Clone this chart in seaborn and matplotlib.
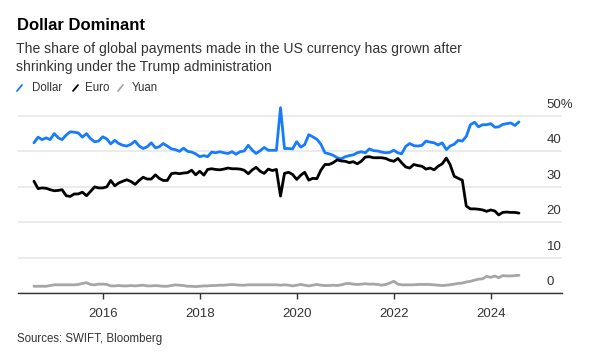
import pandas as pd
import seaborn as sns
import matplotlib.pyplot as plt
import matplotlib.transforms as mtransforms
from matplotlib.lines import Line2D

# monthly SWIFT shares (%), Aug 2014 - Aug 2024
months = pd.date_range("2014-08-01", periods=121, freq="MS")

dollar = [
    42.3, 43.9, 43.2, 43.7, 43.2, 44.9, 43.7, 43.2, 44.5, 45.4, 45.3, 45.1,
    43.9, 44.9, 43.5, 42.6, 42.8, 44.0, 43.4, 42.0, 43.0, 42.1, 41.6, 41.4,
    41.9, 42.8, 41.4, 40.7, 41.2, 42.3, 40.9, 41.2, 42.1, 41.4, 40.6, 40.4,
    39.9, 40.8, 39.9, 39.7, 39.2, 38.4, 38.7, 38.4, 39.7, 39.5, 39.8, 39.5,
    39.3, 39.8, 39.1, 39.8, 40.0, 41.6, 40.2, 39.3, 40.1, 41.0, 40.2, 40.2,
    40.2, 52.2, 40.7, 40.7, 40.6, 42.6, 41.1, 41.8, 44.6, 44.0, 43.3, 41.9,
    39.5, 39.2, 38.8, 38.1, 37.8, 38.4, 38.7, 38.9, 39.5, 39.8, 39.5, 40.6,
    40.1, 40.0, 39.7, 39.5, 39.6, 40.2, 39.5, 39.2, 41.3, 42.1, 41.5, 41.4,
    41.6, 42.8, 42.5, 42.3, 41.7, 42.3, 40.4, 41.4, 41.9, 43.0, 42.8, 44.1,
    47.4, 48.1, 46.8, 47.4, 47.4, 47.7, 46.7, 46.8, 47.5, 47.7, 47.9, 47.2,
    48.2,
]

euro = [
    31.5, 29.4, 29.6, 29.5, 29.1, 28.8, 28.9, 29.1, 27.4, 27.2, 27.9, 27.9,
    28.4, 27.4, 28.6, 29.9, 29.6, 29.6, 29.9, 31.7, 30.2, 31.0, 31.5, 31.9,
    31.4, 30.6, 31.7, 32.6, 32.1, 32.1, 33.3, 32.3, 31.7, 31.7, 33.6, 33.8,
    33.6, 33.8, 33.9, 34.6, 33.3, 34.3, 33.2, 34.8, 35.0, 34.8, 34.7, 34.9,
    35.2, 35.0, 35.0, 34.9, 34.6, 33.6, 34.7, 35.4, 34.3, 33.7, 34.9, 34.5,
    34.8, 27.3, 33.7, 34.0, 33.4, 32.0, 33.2, 34.0, 31.8, 32.3, 32.2, 34.6,
    36.2, 36.2, 36.7, 37.5, 37.2, 37.1, 36.7, 37.0, 36.4, 37.1, 38.3, 38.4,
    38.1, 38.1, 38.1, 37.9, 37.4, 37.1, 37.9, 36.7, 35.5, 35.2, 36.2, 35.9,
    35.7, 34.9, 35.2, 34.7, 35.7, 36.4, 38.0, 36.2, 32.9, 32.3, 31.8, 24.5,
    23.7, 23.7, 23.6, 23.4, 23.0, 23.4, 23.1, 22.0, 22.7, 22.8, 22.7, 22.7,
    22.5,
]

yuan = [
    1.9, 1.9, 1.9, 1.9, 2.1, 2.3, 2.3, 2.3, 2.3, 2.3, 2.3, 2.4,
    2.7, 2.9, 2.4, 2.3, 2.5, 2.5, 2.4, 2.0, 2.0, 2.1, 2.0, 2.0,
    2.1, 2.0, 2.1, 2.2, 2.0, 2.0, 2.1, 2.0, 1.9, 1.9, 2.1, 2.3,
    2.2, 2.1, 1.9, 1.9, 1.8, 1.9, 2.0, 2.0, 2.1, 2.1, 2.2, 2.2,
    2.3, 2.4, 2.3, 2.2, 2.2, 2.3, 2.3, 2.3, 2.3, 2.3, 2.3, 2.3,
    2.3, 2.2, 2.3, 2.2, 2.0, 2.2, 2.4, 2.2, 2.0, 2.2, 2.4, 2.2,
    2.1, 2.1, 2.2, 2.1, 2.3, 2.6, 2.7, 2.5, 2.4, 2.5, 2.6, 2.5,
    2.5, 2.4, 2.2, 2.4, 2.8, 3.3, 2.5, 2.3, 2.3, 2.3, 2.3, 2.4,
    2.4, 2.4, 2.4, 2.3, 2.2, 2.1, 2.2, 2.3, 2.5, 2.7, 2.8, 3.1,
    3.3, 3.6, 3.9, 4.0, 4.7, 4.4, 4.8, 4.3, 4.9, 4.8, 4.8, 4.9,
    5.0,
]

series_names = ["Dollar", "Euro", "Yuan"]
series_colors = ["#157bff", "#000000", "#a6a6a6"]
y_ticks = [0, 10, 20, 30, 40, 50]
y_tick_labels = ["0", "10", "20", "30", "40", "50%"]
x_tick_years = [2016, 2018, 2020, 2022, 2024]

df = pd.DataFrame({"date": months, "Dollar": dollar, "Euro": euro, "Yuan": yuan})
long_df = df.melt(id_vars="date", var_name="currency", value_name="share")

sns.set_theme(style="white")
plt.rcParams["font.family"] = ["Liberation Sans", "DejaVu Sans"]

W, H = 591, 359
fig = plt.figure(figsize=(W / 100, H / 100), dpi=100)
ax = fig.add_axes([18 / W, 1 - 293 / H, (562 - 18) / W, (293 - 97.75) / H])

sns.lineplot(data=long_df, x="date", y="share", hue="currency",
             hue_order=series_names, palette=series_colors,
             linewidth=2, legend=False, ax=ax)

ax.set_xlim(pd.Timestamp("2014-04-03"), pd.Timestamp("2025-06-21"))
ax.set_ylim(0, 55)
ax.set_xlabel("")
ax.set_ylabel("")

for side in ["top", "left", "right"]:
    ax.spines[side].set_visible(False)
ax.spines["bottom"].set_color("#333333")
ax.spines["bottom"].set_linewidth(1)

# gridlines, labels sit above them at the right end
ax.set_yticks(y_ticks)
ax.yaxis.grid(True, color="#e9e9e9", linewidth=1.3)
ax.set_axisbelow(True)
ax.tick_params(axis="y", length=0, labelleft=False)
trans = mtransforms.blended_transform_factory(ax.transAxes, ax.transData)
for v, lab in zip(y_ticks, y_tick_labels):
    ax.text(0.972, v + 3.0, lab, transform=trans, ha="left", va="center",
            fontsize=9.5, color="#333333")

ax.set_xticks([pd.Timestamp(f"{y}-01-01") for y in x_tick_years])
ax.set_xticklabels([str(y) for y in x_tick_years])
ax.tick_params(axis="x", length=4, width=1, color="#333333", pad=7,
               labelsize=9.5, labelcolor="#333333", bottom=True)

# header
fig.text(17 / W, 1 - 30 / H, "Dollar Dominant", fontsize=12, fontweight="bold",
         color="#000000", va="baseline", ha="left")
fig.text(16 / W, 1 - 53 / H, "The share of global payments made in the US currency has grown after",
         fontsize=10.1, color="#333333", va="baseline", ha="left")
fig.text(16 / W, 1 - 71 / H, "shrinking under the Trump administration",
         fontsize=10.1, color="#333333", va="baseline", ha="left")

# legend with slash markers
legend_x = [(17, 32), (73, 85), (118, 132)]
for (sx, tx), name, col in zip(legend_x, series_names, series_colors):
    fig.add_artist(Line2D([sx / W, (sx + 5) / W], [1 - 91 / H, 1 - 85 / H],
                          color=col, linewidth=1.3, transform=fig.transFigure))
    fig.text(tx / W, 1 - 88 / H, name, fontsize=8.3, color="#333333",
             va="center", ha="left")

fig.text(17 / W, 1 - 339 / H, "Sources: SWIFT, Bloomberg", fontsize=8.3,
         color="#333333", va="center", ha="left")

fig.savefig("out.png", dpi=100)
